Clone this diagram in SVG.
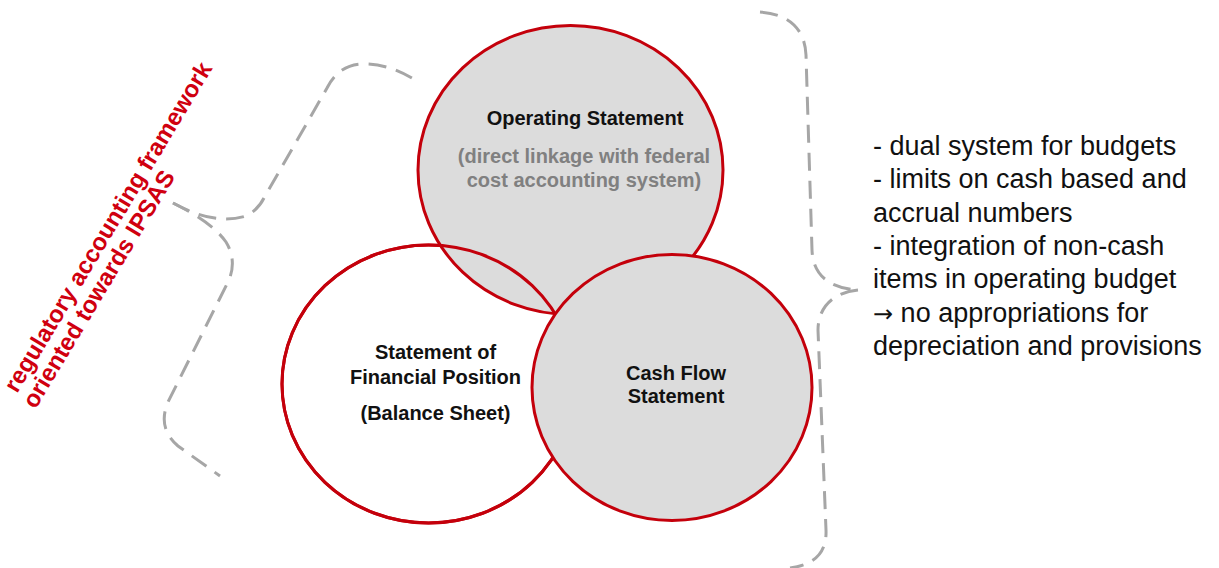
<svg xmlns="http://www.w3.org/2000/svg" width="1219" height="568" viewBox="0 0 1219 568">
  <style>
    .bg { fill: #ffffff; }
    .ring { stroke: #c4000b; stroke-width: 3; }
    .gray { fill: #dcdcdc; }
    .white { fill: #ffffff; }
    .nofill { fill: none; }
    .lbl { font-family: "Liberation Sans", Arial, sans-serif; font-weight: bold; font-size: 20px; fill: #111111; text-anchor: middle; }
    .sub { fill: #808080; }
    .brace { fill: none; stroke: #a6a6a6; stroke-width: 3; stroke-dasharray: 18 10; stroke-linecap: butt; }
    .side { font-family: "Liberation Sans", Arial, sans-serif; font-size: 27px; fill: #111111; }
    .arrow { font-family: "DejaVu Sans", sans-serif; font-size: 24px; }
    .frame { font-family: "Liberation Sans", Arial, sans-serif; font-weight: bold; font-size: 24px; fill: #d0000f; }
  </style>
  <rect class="bg" x="0" y="0" width="1219" height="568"/>

  <g id="framework-label">
    <g transform="translate(17,394) rotate(-59)">
      <text class="frame" x="0" y="0">regulatory accounting framework</text>
      <text class="frame" x="-4" y="24">oriented towards IPSAS</text>
    </g>
  </g>

  <g id="connectors">
    <path class="brace" d="M173,203 Q215,226 246,216 Q258,210 264,198 L327,88 Q339,64 364,64 Q392,64 418,82"/>
    <path class="brace" d="M173,203 Q212,222 226,242 Q237,260 229,280 L168,402 Q157,428 178,446 L220,476"/>
    <path class="brace" d="M760,12 C790,14 805,30 806,55 L812,250 C813,276 830,288 858,290"/>
    <path class="brace" d="M858,290 C835,292 818,306 818,330 L826,530 C827,555 812,565 790,568"/>
  </g>

  <g id="balance-sheet">
    <ellipse class="white ring" cx="428.6" cy="384" rx="146.6" ry="139"/>
    <text class="lbl" x="435.5" y="359">Statement of</text>
    <text class="lbl" x="435.5" y="384">Financial Position</text>
    <text class="lbl" x="435.5" y="420">(Balance Sheet)</text>
  </g>

  <g id="operating-statement">
    <ellipse class="gray ring" cx="570.5" cy="170" rx="152.5" ry="144.5"/>
    <ellipse class="nofill ring" cx="428.6" cy="384" rx="146.6" ry="139"/>
    <text class="lbl" x="585" y="125">Operating Statement</text>
    <text class="lbl sub" x="584" y="163">(direct linkage with federal</text>
    <text class="lbl sub" x="584" y="187">cost accounting system)</text>
  </g>

  <g id="cash-flow-statement">
    <ellipse class="gray ring" cx="672" cy="387.5" rx="140" ry="133"/>
    <text class="lbl" x="676" y="380">Cash Flow</text>
    <text class="lbl" x="676" y="403">Statement</text>
  </g>

  <g id="notes">
    <text class="side" x="873" y="155">- dual system for budgets</text>
    <text class="side" x="873" y="188">- limits on cash based and</text>
    <text class="side" x="873" y="222">accrual numbers</text>
    <text class="side" x="873" y="255">- integration of non-cash</text>
    <text class="side" x="873" y="288">items in operating budget</text>
    <text class="side" x="873" y="322"><tspan class="arrow">→</tspan> no appropriations for</text>
    <text class="side" x="873" y="355">depreciation and provisions</text>
  </g>
</svg>
